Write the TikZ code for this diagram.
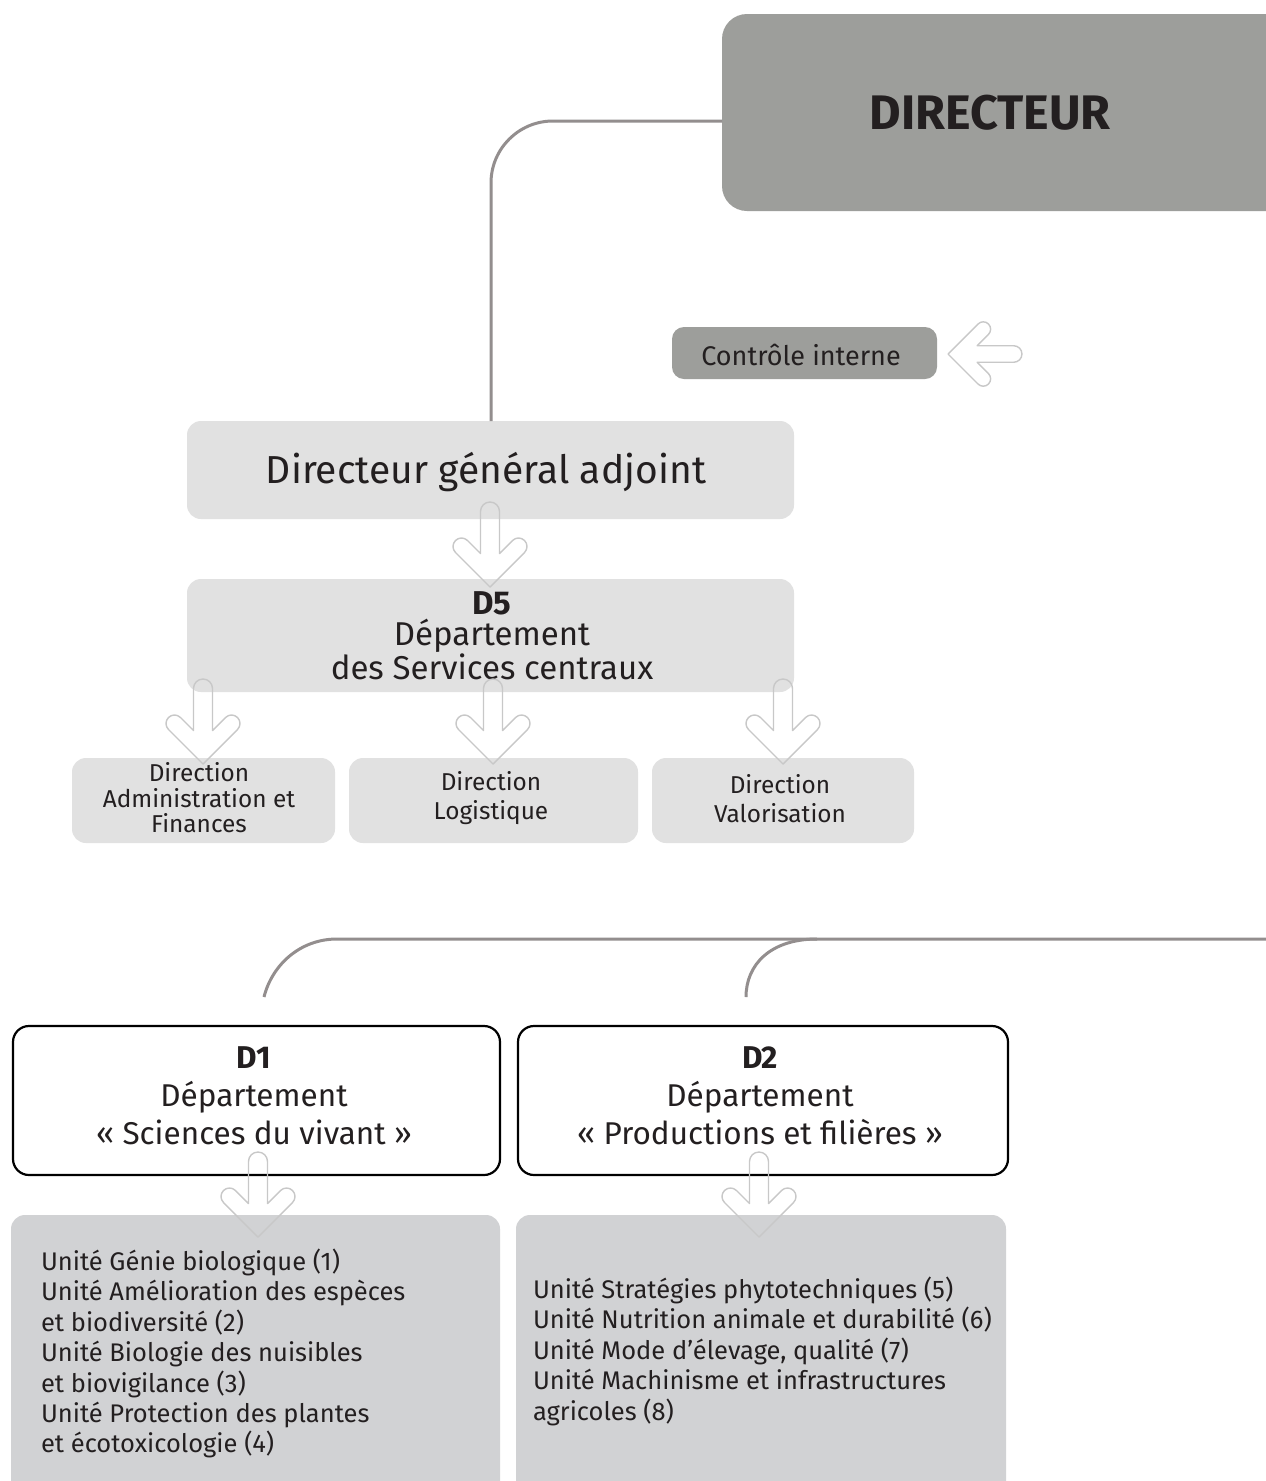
\documentclass[tikz,border=0pt]{standalone}
\usepackage{fontspec}
\setmainfont{Fira Sans}
\definecolor{darkbox}{HTML}{9D9E9B}
\definecolor{lightbox}{HTML}{E1E1E1}
\definecolor{unitbox}{HTML}{D1D2D4}
\definecolor{txt}{HTML}{231F20}
\definecolor{conncol}{HTML}{938E8E}
\definecolor{arrowcol}{HTML}{C8C8C8}
\newcommand{\fdir}{\fontsize{48.5}{52}\selectfont\bfseries}
\newcommand{\fdga}{\fontsize{39}{44}\selectfont}
\newcommand{\fctrl}{\fontsize{27}{30}\selectfont}
\newcommand{\fdept}{\fontsize{33}{31}\selectfont}
\newcommand{\fdeptb}{\fontsize{31.5}{38}\selectfont}
\newcommand{\fdirection}{\fontsize{24.4}{25.5}\selectfont}
\newcommand{\fdirectiontwo}{\fontsize{24.4}{29}\selectfont}
\newcommand{\funit}{\fontsize{25.5}{30.4}\selectfont}
\tikzset{
  box/.style={rectangle, inner sep=0pt, outer sep=0pt, text=txt},
  darkb/.style={box, fill=darkbox},
  lightb/.style={box, fill=lightbox},
  unitb/.style={box, fill=unitbox},
  deptb/.style={box, fill=white, draw=black, line width=2.2pt, rounded corners=16pt},
  txtnode/.style={inner sep=0pt, outer sep=0pt, text=txt},
  conn/.style={draw=conncol, line width=3pt},
  arrowline/.style={draw=arrowcol, line width=1.4pt, line join=round},
  hollow arrow/.pic={
    \draw[arrowline] (0,0) -- (-34.5,-34.5)
      .. controls (-37.82,-37.82) and (-37.83,-43.19) .. (-34.51,-46.51)
      .. controls (-31.19,-49.83) and (-25.82,-49.82) .. (-22.5,-46.5)
      -- (-9.5,-33.5) -- (-9.5,-75.5)
      .. controls (-9.5,-80.75) and (-5.25,-85) .. (0,-85)
      .. controls (5.25,-85) and (9.5,-80.75) .. (9.5,-75.5)
      -- (9.5,-33.5) -- (22.5,-46.5)
      .. controls (25.82,-49.82) and (31.19,-49.83) .. (34.51,-46.51)
      .. controls (37.83,-43.19) and (37.82,-37.82) .. (34.5,-34.5)
      -- cycle;
  }
}
\begin{document}
\begin{tikzpicture}[x=1pt, y=-1pt]
\useasboundingbox (0,0) rectangle (1266,1481);
\clip (0,0) rectangle (1266,1481);
\fill[white] (0,0) rectangle (1266,1481);

% connector points
\coordinate (dirleft) at (722,121);
\coordinate (corner1) at (491,121);
\coordinate (rightin) at (1270,939);
\coordinate (hl) at (337,939);
\coordinate (d1top) at (264,997);
\coordinate (hr) at (817,939);
\coordinate (d2top) at (746,997);

% boxes
\node[darkb, rounded corners=25pt, minimum width=588pt, minimum height=197pt] (dir) at (1016,112.5) {};
\node[txtnode, font=\fdir] (dirtxt) at (990,113) {DIRECTEUR};

\node[darkb, rounded corners=12pt, minimum width=265pt, minimum height=52pt] (ctrl) at (804.5,353) {};
\node[txtnode, font=\fctrl] (ctrltxt) at (801,355) {Contr\^ole interne};

\node[lightb, rounded corners=14pt, minimum width=607pt, minimum height=98pt] (dga) at (490.5,470) {};
\node[txtnode, font=\fdga] (dgatxt) at (486,472) {Directeur g\'en\'eral adjoint};

\node[lightb, rounded corners=14pt, minimum width=607pt, minimum height=113pt] (d5) at (490.5,635.5) {};
\node[txtnode, align=center, font=\fdept] (d5txt) at (492,636) {\textbf{D5}\\D\'epartement\\des Services centraux};

\node[lightb, rounded corners=14pt, minimum width=263pt, minimum height=85pt] (dira) at (203.5,800.5) {};
\node[txtnode, align=center, font=\fdirection] (diratxt) at (199,798) {Direction\\Administration et\\Finances};
\node[lightb, rounded corners=14pt, minimum width=289pt, minimum height=85pt] (dirl) at (493.5,800.5) {};
\node[txtnode, align=center, font=\fdirectiontwo] (dirltxt) at (491,798.5) {Direction\\Logistique};
\node[lightb, rounded corners=14pt, minimum width=262pt, minimum height=85pt] (dirv) at (783,800.5) {};
\node[txtnode, align=center, font=\fdirectiontwo] (dirvtxt) at (780,798.5) {Direction\\Valorisation};

\node[deptb, minimum width=487pt, minimum height=149pt] (d1) at (256.5,1100.5) {};
\node[txtnode, align=center, font=\fdeptb] (d1txt) at (254,1096) {\textbf{D1}\\D\'epartement\\\guillemotleft\ Sciences du vivant \guillemotright};
\node[deptb, minimum width=490pt, minimum height=149pt] (d2) at (763,1100.5) {};
\node[txtnode, align=center, font=\fdeptb] (d2txt) at (760,1096) {\textbf{D2}\\D\'epartement\\\guillemotleft\ Productions et fili\`eres \guillemotright};

\node[unitb, rounded corners=14pt, minimum width=489pt, minimum height=305pt] (u1) at (255.5,1367.5) {};
\node[txtnode, align=left, anchor=north west, font=\funit] (u1txt) at (41,1249) {Unit\'e G\'enie biologique (1)\\Unit\'e Am\'elioration des esp\`eces\\et biodiversit\'e (2)\\Unit\'e Biologie des nuisibles\\et biovigilance (3)\\Unit\'e Protection des plantes\\et \'ecotoxicologie (4)};
\node[unitb, rounded corners=14pt, minimum width=490pt, minimum height=305pt] (u2) at (761,1367.5) {};
\node[txtnode, align=left, anchor=north west, font=\funit] (u2txt) at (533,1277) {Unit\'e Strat\'egies phytotechniques (5)\\Unit\'e Nutrition animale et durabilit\'e (6)\\Unit\'e Mode d'\'elevage, qualit\'e (7)\\Unit\'e Machinisme et infrastructures\\agricoles (8)};

% connector lines
\draw[conn, rounded corners=62pt] (dirleft) -- (corner1) -- (dga.north -| corner1);
\draw[conn] (rightin) -- (hl) .. controls (300,939) and (272,965) .. (d1top);
\draw[conn] (hr) .. controls (770,939) and (746,965) .. (d2top);

% hollow arrows
\pic at (490,587) {hollow arrow};
\pic at (203,764) {hollow arrow};
\pic at (493,764) {hollow arrow};
\pic at (783,764) {hollow arrow};
\pic at (258,1237) {hollow arrow};
\pic at (759,1237) {hollow arrow};
\pic[rotate=-90, scale=0.87] at (948,354) {hollow arrow};
\end{tikzpicture}
\end{document}
